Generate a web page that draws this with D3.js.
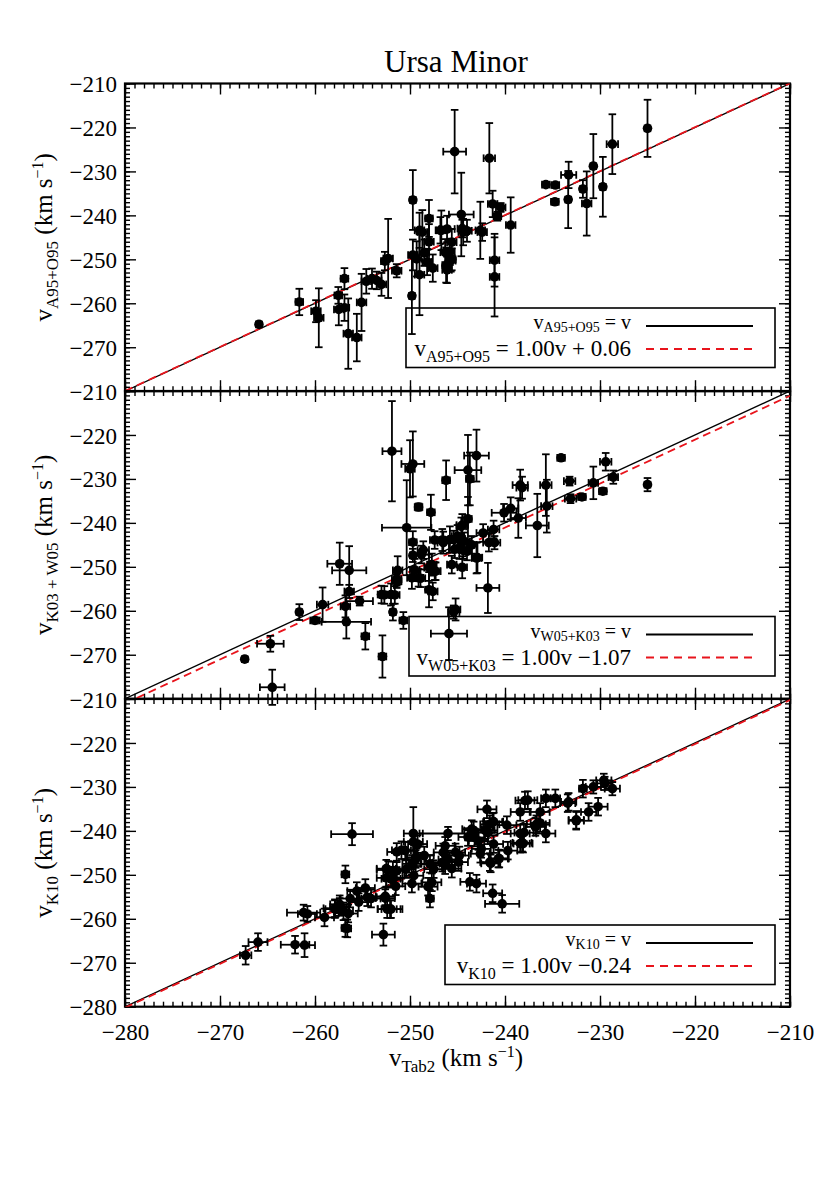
<!DOCTYPE html>
<html>
<head>
<meta charset="utf-8">
<script src="https://cdn.jsdelivr.net/npm/d3@7"></script>
<style>
  body { margin: 0; background: #fff; }
  svg { display: block; }
  text { font-family: "Liberation Serif", "DejaVu Serif", serif; fill: #000; }
</style>
</head>
<body>
<svg id="chart" width="830" height="1186"></svg>
<script>
// axis settings shared by the three panels
var domain = [-280, -210];
var majorTicks = [-280, -270, -260, -250, -240, -230, -220, -210];

// [x, y, xerr, yerr]
var ptsA95 = [
  [-265.9,-264.8,0.3,0.5], [-261.65,-259.7,0.4,3.0], [-259.9,-261.8,0.5,2.5], [-259.6,-263.3,0.5,6.7],
  [-257.55,-258.2,0.4,1.9], [-257.5,-261.4,0.5,3.6], [-256.9,-254.4,0.4,2.4], [-256.9,-261.0,0.5,3.0],
  [-256.5,-266.9,0.5,8.0], [-255.6,-267.8,0.5,5.4], [-255.1,-259.8,0.5,6.5], [-254.6,-255.0,0.5,2.8],
  [-254.0,-254.4,0.5,2.3], [-253.5,-254.8,0.5,2.0], [-253.0,-255.7,0.5,2.6], [-252.65,-250.4,0.4,2.1],
  [-252.3,-249.8,0.5,9.0], [-251.4,-252.6,0.5,1.5], [-249.7,-236.5,0.3,6.8], [-249.8,-258.3,0.3,8.7],
  [-249.7,-249.0,0.5,3.5], [-249.0,-253.5,0.5,9.2], [-248.7,-243.8,0.5,5.0], [-248.0,-240.7,0.4,4.2],
  [-248.0,-246.0,0.5,4.0], [-247.6,-252.0,0.5,3.1], [-248.5,-248.5,0.5,3.0], [-246.7,-243.4,0.5,4.5],
  [-246.1,-243.1,0.8,3.0], [-246.2,-251.3,0.4,4.0], [-245.8,-248.3,0.5,3.0], [-245.3,-225.5,1.2,9.5],
  [-241.65,-227.0,0.6,8.0], [-244.6,-239.8,1.3,9.5], [-244.5,-243.0,0.5,2.0], [-245.6,-246.1,0.5,3.0],
  [-245.6,-250.0,0.4,2.5], [-244.0,-243.5,0.5,2.5], [-242.6,-243.4,0.5,6.5], [-242.4,-243.8,0.5,2.0],
  [-241.3,-237.4,0.5,3.0], [-240.45,-238.2,0.5,1.0], [-240.8,-240.2,0.4,1.0], [-239.4,-242.2,0.5,6.3],
  [-241.1,-250.2,0.5,6.0], [-241.1,-254.0,0.5,9.0], [-235.7,-233.0,0.4,0.4], [-234.7,-233.1,0.4,0.4],
  [-234.75,-236.9,0.4,0.6], [-233.3,-230.8,0.8,3.0], [-233.35,-236.4,0.3,6.5], [-231.8,-234.0,0.3,2.0],
  [-231.4,-237.3,0.5,7.3], [-230.7,-228.8,0.3,7.3], [-229.7,-233.5,0.3,6.8], [-228.7,-223.8,0.6,6.8],
  [-225.0,-220.2,0.3,6.5], [-249.0,-243.4,0.5,4.0], [-246.8,-243.4,0.5,3.0], [-244.4,-243.8,0.5,3.0],
  [-248.2,-250.6,0.5,3.0], [-249.3,-249.9,0.5,4.0], [-246.3,-248.4,0.5,3.0], [-245.7,-250.3,0.5,2.5],
  [-246.1,-252.4,0.5,3.0]
];

var ptsW05 = [
  [-267.4,-271.0,0.3,0.5], [-264.7,-267.5,1.4,1.8], [-264.5,-277.4,1.3,4.0], [-261.65,-260.3,0.3,1.8],
  [-260.0,-262.2,0.5,0.7], [-259.2,-258.6,0.6,3.9], [-257.4,-249.3,1.3,4.8], [-256.4,-250.8,1.8,5.5],
  [-256.4,-255.6,0.5,1.5], [-256.8,-259.0,0.5,2.5], [-256.7,-262.5,2.6,3.8], [-255.3,-257.8,1.4,1.0],
  [-254.7,-265.8,0.4,3.0], [-253.0,-256.3,0.4,2.0], [-252.0,-256.3,0.4,2.5], [-252.9,-270.4,0.4,4.8],
  [-251.8,-260.3,0.3,1.9], [-250.7,-262.2,0.4,1.9], [-251.9,-223.7,1.0,11.4], [-251.3,-250.8,0.5,3.2],
  [-251.4,-253.3,0.5,1.5], [-250.35,-241.1,2.6,10.8], [-250.0,-227.7,0.5,6.5], [-249.7,-226.6,1.2,7.4],
  [-249.1,-236.4,0.4,0.8], [-247.8,-237.6,0.4,4.0], [-249.7,-244.4,0.4,2.5], [-249.7,-247.4,0.3,1.5],
  [-248.8,-247.2,0.8,2.0], [-249.8,-252.5,0.5,2.5], [-249.1,-252.5,0.5,2.0], [-248.0,-250.2,0.5,3.0],
  [-247.3,-251.0,0.5,2.0], [-248.0,-255.2,0.4,4.0], [-247.6,-255.6,0.5,2.0], [-246.2,-230.3,0.4,4.5],
  [-245.9,-265.2,1.9,6.0], [-245.2,-259.7,0.5,2.5], [-246.5,-244.5,0.6,2.5], [-245.8,-243.8,0.5,3.0],
  [-245.3,-246.0,0.6,2.0], [-243.0,-224.7,1.3,5.9], [-243.9,-228.0,1.4,8.0], [-243.7,-230.0,0.4,6.0],
  [-243.9,-239.1,0.4,5.0], [-244.6,-240.8,0.5,2.0], [-245.0,-243.0,0.6,2.5], [-244.3,-244.2,0.6,2.0],
  [-244.8,-245.7,0.5,2.5], [-244.0,-246.5,0.5,2.0], [-242.3,-242.3,0.7,2.0], [-241.2,-241.5,0.6,2.0],
  [-243.0,-248.0,0.5,3.5], [-241.7,-244.5,0.6,2.0], [-241.1,-244.5,0.6,1.5], [-241.8,-254.8,1.2,5.7],
  [-240.1,-237.7,1.3,2.0], [-239.4,-236.7,0.8,2.5], [-238.6,-238.9,0.8,4.5], [-238.4,-231.4,0.8,3.5],
  [-238.2,-232.0,0.6,2.5], [-236.6,-240.6,1.2,7.2], [-235.7,-231.4,0.6,7.0], [-235.6,-236.2,0.6,6.0],
  [-234.1,-225.2,0.4,0.5], [-233.2,-230.5,0.6,1.0], [-233.1,-234.5,0.6,1.0], [-231.9,-234.1,0.4,0.6],
  [-230.7,-230.9,0.5,3.7], [-229.7,-232.8,0.4,0.7], [-229.4,-226.1,0.6,2.0], [-228.6,-229.6,0.5,1.5],
  [-225.0,-231.3,0.3,1.5], [-245.4,-260.3,0.6,1.5], [-247.4,-243.9,0.5,2.0], [-246.6,-243.9,0.5,2.5],
  [-245.4,-243.8,0.5,2.0], [-244.5,-240.5,0.6,2.5], [-243.5,-245.0,0.5,2.0], [-242.9,-247.9,0.5,3.5],
  [-244.4,-246.2,0.5,2.0], [-245.6,-249.5,0.5,2.0], [-244.5,-250.1,0.5,2.5], [-248.6,-246.2,0.6,2.0],
  [-247.7,-249.5,0.5,2.5], [-247.4,-251.0,0.6,2.0], [-249.5,-250.7,0.5,2.5], [-248.9,-252.6,0.5,2.0],
  [-251.6,-256.4,0.5,2.0], [-252.7,-256.4,0.5,2.0], [-251.4,-252.8,0.5,1.5]
];

var ptsK10 = [
  [-267.3,-268.3,0.6,2.1], [-266.0,-265.3,1.0,2.0], [-262.1,-265.9,1.5,2.0], [-261.1,-266.0,1.1,2.7],
  [-261.2,-258.6,1.75,1.8], [-260.8,-258.9,1.0,1.8], [-259.0,-259.7,1.0,2.0], [-257.9,-257.6,1.2,2.0],
  [-257.4,-257.3,1.0,2.0], [-257.0,-258.3,1.0,2.0], [-256.5,-258.8,1.0,2.0], [-256.8,-262.1,0.4,2.0],
  [-256.8,-249.9,0.4,2.0], [-256.1,-240.75,2.2,2.5], [-256.3,-255.4,1.0,2.0], [-255.6,-253.7,1.0,2.0],
  [-254.7,-253.0,1.0,2.0], [-255.4,-256.2,1.0,2.0], [-254.1,-255.4,1.0,2.0], [-252.8,-263.6,1.2,2.5],
  [-252.6,-255.3,1.0,2.0], [-252.4,-257.8,1.0,2.0], [-252.1,-257.8,1.3,2.0], [-252.3,-248.9,1.2,2.0],
  [-252.0,-250.9,1.0,2.0], [-249.65,-240.6,1.0,6.0], [-246.0,-240.6,3.0,1.5], [-249.65,-242.5,1.0,2.0],
  [-251.4,-244.8,1.0,2.0], [-250.5,-244.5,1.0,2.0], [-252.5,-248.6,1.0,2.0], [-251.8,-249.0,1.0,2.0],
  [-252.5,-250.7,1.0,2.0], [-251.8,-250.7,1.0,2.0], [-249.8,-247.5,1.0,2.0], [-249.3,-246.0,1.0,2.0],
  [-249.8,-252.0,1.0,2.0], [-248.1,-252.7,1.0,2.0], [-247.9,-255.4,0.4,2.0], [-247.9,-247.5,1.0,2.0],
  [-246.5,-244.9,1.0,2.0], [-246.0,-246.5,1.0,2.0], [-245.6,-248.6,1.0,2.0], [-246.3,-247.8,1.0,2.0],
  [-244.9,-247.1,1.0,2.0], [-243.9,-241.4,1.0,2.0], [-243.3,-239.9,1.0,2.0], [-242.6,-245.2,1.0,2.0],
  [-241.6,-247.1,1.0,2.0], [-241.9,-235.1,1.0,2.0], [-241.3,-238.0,1.0,2.0], [-239.7,-244.5,1.0,2.0],
  [-240.7,-246.3,1.0,2.0], [-243.7,-251.6,1.0,2.0], [-243.0,-252.0,1.0,2.0], [-241.3,-254.2,1.0,2.0],
  [-240.3,-256.6,1.8,2.0], [-238.4,-235.7,1.0,2.0], [-237.9,-233.1,1.0,2.0], [-238.4,-240.6,1.0,2.0],
  [-238.4,-242.9,1.0,2.0], [-241.2,-237.9,1.0,2.0], [-242.1,-239.8,1.0,2.0], [-239.8,-238.7,1.0,2.0],
  [-237.6,-233.0,1.0,2.0], [-236.3,-235.7,1.0,2.0], [-235.7,-232.6,0.5,2.0], [-234.7,-232.6,0.5,2.0],
  [-233.3,-233.4,0.8,2.0], [-236.8,-239.1,1.0,2.0], [-236.3,-238.2,1.0,2.0], [-235.7,-240.6,1.0,2.0],
  [-238.2,-242.7,1.0,2.0], [-241.5,-247.4,1.0,2.0], [-240.6,-246.3,1.0,2.0], [-232.5,-237.7,0.8,2.0],
  [-231.2,-235.7,0.8,2.0], [-230.2,-234.5,1.0,2.0], [-231.8,-230.4,0.4,2.0], [-230.7,-230.0,0.8,1.5],
  [-229.6,-228.5,0.8,1.5], [-228.7,-230.4,0.8,1.5], [-229.5,-229.2,0.8,1.5], [-243.5,-239.6,1.0,2.0],
  [-241.8,-240.4,1.0,2.0], [-242.8,-242.3,1.0,2.0], [-241.2,-243.0,1.0,2.0], [-241.6,-238.5,1.0,2.0],
  [-243.2,-241.5,1.0,2.0], [-242.5,-244.1,1.0,2.0], [-244.8,-245.6,1.0,2.0], [-245.2,-244.9,1.0,2.0],
  [-246.3,-243.4,1.0,2.0], [-246.6,-247.2,1.0,2.0], [-247.5,-248.7,1.0,2.0], [-247.7,-251.7,1.0,2.0],
  [-248.5,-245.6,1.0,2.0], [-249.2,-243.0,1.0,2.0], [-249.4,-246.4,1.0,2.0], [-249.6,-250.2,1.0,2.0],
  [-250.9,-244.4,1.0,2.0], [-250.4,-248.7,1.0,2.0], [-251.4,-249.1,1.0,2.0], [-251.5,-252.6,1.0,2.0],
  [-252.6,-254.9,1.0,2.0], [-252.0,-257.8,1.0,2.0], [-254.5,-255.1,1.0,2.0], [-257.4,-256.7,1.0,2.0],
  [-257.9,-257.8,1.0,2.0], [-256.6,-262.2,0.4,2.0], [-236.7,-238.5,1.0,2.0], [-238.0,-240.4,1.0,2.0],
  [-238.1,-242.9,1.0,2.0], [-233.4,-233.7,0.8,2.0], [-232.5,-237.5,0.8,2.0]
];

// fits: slope, offset
var fitSlopes = [1.00, 1.00, 1.00];
var fitOffsets = [0.06, -1.07, -0.24];
var panelSubs = ["A95+O95", "W05+K03", "K10"];
var yLabelSubs = ["A95+O95", "K03 + W05", "K10"];
var fitTexts = ["1.00v + 0.06", "1.00v \u22121.07", "1.00v \u22120.24"];
var yLabelTicks = [
  [-270, -260, -250, -240, -230, -220, -210],
  [-270, -260, -250, -240, -230, -220, -210],
  [-280, -270, -260, -250, -240, -230, -220, -210]
];

var svg = d3.select("#chart");
var left = 125, right = 790;
var panelTops = [83.5, 391, 699];
var panelH = 307.7;

var x = d3.scaleLinear().domain(domain).range([left, right]);
var minorTicks = d3.range(-280, -209, 1);
var fmt = function(d) { return d3.format("d")(d); };

// title
svg.append("text")
  .attr("x", 456)
  .attr("y", 72)
  .attr("text-anchor", "middle")
  .attr("font-size", "31px")
  .text("Ursa Minor");

var allPts = [ptsA95, ptsW05, ptsK10];

allPts.forEach(function(pts, i) {
  var top = panelTops[i], bottom = top + panelH;
  var y = d3.scaleLinear().domain(domain).range([bottom, top]);
  var g = svg.append("g");

  var clipId = "clip" + i;
  svg.append("clipPath").attr("id", clipId)
    .append("rect").attr("x", left).attr("y", top)
    .attr("width", right - left).attr("height", bottom - top);

  // minor ticks
  g.append("g").attr("transform", "translate(0," + bottom + ")")
    .call(d3.axisBottom(x).tickValues(minorTicks).tickSize(-5).tickFormat(""));
  g.append("g").attr("transform", "translate(0," + top + ")")
    .call(d3.axisTop(x).tickValues(minorTicks).tickSize(-5).tickFormat(""));
  g.append("g").attr("transform", "translate(" + left + ",0)")
    .call(d3.axisLeft(y).tickValues(minorTicks).tickSize(-5).tickFormat(""));
  g.append("g").attr("transform", "translate(" + right + ",0)")
    .call(d3.axisRight(y).tickValues(minorTicks).tickSize(-5).tickFormat(""));

  // major ticks
  g.append("g").attr("transform", "translate(0," + bottom + ")")
    .call(d3.axisBottom(x).tickValues(majorTicks).tickSize(-11).tickPadding(17)
      .tickFormat(i === 2 ? fmt : ""));
  g.append("g").attr("transform", "translate(0," + top + ")")
    .call(d3.axisTop(x).tickValues(majorTicks).tickSize(-11).tickFormat(""));
  var yl = g.append("g").attr("transform", "translate(" + left + ",0)")
    .call(d3.axisLeft(y).tickValues(majorTicks).tickSize(-11).tickPadding(8)
      .tickFormat(function(d) { return yLabelTicks[i].indexOf(d) >= 0 ? fmt(d) : ""; }));
  g.append("g").attr("transform", "translate(" + right + ",0)")
    .call(d3.axisRight(y).tickValues(majorTicks).tickSize(-11).tickFormat(""));

  g.selectAll(".domain").remove();
  g.selectAll(".tick line").attr("stroke", "#000").attr("stroke-width", 1.4);
  g.selectAll(".tick text").attr("font-size", "23px").attr("fill", "#000");
  yl.selectAll(".tick text").attr("dy", "0.35em");

  // frame
  g.append("rect")
    .attr("x", left).attr("y", top)
    .attr("width", right - left).attr("height", bottom - top)
    .attr("fill", "none").attr("stroke", "#000").attr("stroke-width", 2.2);

  // one-to-one and fit lines
  var lines = g.append("g").attr("clip-path", "url(#" + clipId + ")");
  lines.append("line")
    .attr("x1", x(domain[0])).attr("y1", y(domain[0]))
    .attr("x2", x(domain[1])).attr("y2", y(domain[1]))
    .attr("stroke", "#000").attr("stroke-width", 1.4);
  lines.append("line")
    .attr("x1", x(domain[0])).attr("y1", y(fitSlopes[i] * domain[0] + fitOffsets[i]))
    .attr("x2", x(domain[1])).attr("y2", y(fitSlopes[i] * domain[1] + fitOffsets[i]))
    .attr("stroke", "#e8141c").attr("stroke-width", 1.8)
    .attr("stroke-dasharray", "8,5");

  // points with error bars
  var cap = 3.8;
  var pg = g.append("g").attr("stroke", "#000").attr("stroke-width", 1.8);
  pts.forEach(function(p) {
    var cx = x(p[0]), cy = y(p[1]);
    var x0 = x(p[0] - p[2]), x1 = x(p[0] + p[2]);
    var y0 = y(p[1] - p[3]), y1 = y(p[1] + p[3]);
    pg.append("line").attr("x1", x0).attr("x2", x1).attr("y1", cy).attr("y2", cy);
    pg.append("line").attr("x1", x0).attr("x2", x0).attr("y1", cy - cap).attr("y2", cy + cap);
    pg.append("line").attr("x1", x1).attr("x2", x1).attr("y1", cy - cap).attr("y2", cy + cap);
    pg.append("line").attr("x1", cx).attr("x2", cx).attr("y1", y0).attr("y2", y1);
    pg.append("line").attr("x1", cx - cap).attr("x2", cx + cap).attr("y1", y0).attr("y2", y0);
    pg.append("line").attr("x1", cx - cap).attr("x2", cx + cap).attr("y1", y1).attr("y2", y1);
  });
  g.append("g").selectAll("circle").data(pts).enter().append("circle")
    .attr("cx", function(d) { return x(d[0]); })
    .attr("cy", function(d) { return y(d[1]); })
    .attr("r", 4.8)
    .attr("fill", "#000");

  // y axis label
  var lab = g.append("text")
    .attr("transform", "translate(52," + (top + panelH / 2) + ") rotate(-90)")
    .attr("text-anchor", "middle")
    .attr("font-size", "25px");
  lab.append("tspan").text("v");
  lab.append("tspan").attr("font-size", "17px").attr("dy", 6).text(yLabelSubs[i]);
  lab.append("tspan").attr("dy", -6).text(" (km s");
  lab.append("tspan").attr("font-size", "16px").attr("dy", -9).text("\u22121");
  lab.append("tspan").attr("dy", 9).text(")");

  // legend
  var lgX = [406, 409, 445][i];
  var lgTop = [308, 616.5, 925][i];
  g.append("rect")
    .attr("x", lgX).attr("y", lgTop)
    .attr("width", 775 - lgX).attr("height", 59.5)
    .attr("fill", "none").attr("stroke", "#000").attr("stroke-width", 1.6);

  var r1 = g.append("text").attr("x", 631).attr("y", lgTop + 21)
    .attr("text-anchor", "end").attr("font-size", "20px");
  r1.append("tspan").text("v");
  r1.append("tspan").attr("font-size", "14px").attr("dy", 3).text(panelSubs[i]);
  r1.append("tspan").attr("dy", -3).text(" = v");

  var r2 = g.append("text").attr("x", 631).attr("y", lgTop + 48)
    .attr("text-anchor", "end").attr("font-size", "23px");
  r2.append("tspan").text("v");
  r2.append("tspan").attr("font-size", "16px").attr("dy", 6).text(panelSubs[i]);
  r2.append("tspan").attr("dy", -6).text(" = " + fitTexts[i]);

  g.append("line").attr("x1", 646).attr("x2", 753)
    .attr("y1", lgTop + 18).attr("y2", lgTop + 18)
    .attr("stroke", "#000").attr("stroke-width", 2.2);
  g.append("line").attr("x1", 646).attr("x2", 753)
    .attr("y1", lgTop + 41).attr("y2", lgTop + 41)
    .attr("stroke", "#e8141c").attr("stroke-width", 2.2)
    .attr("stroke-dasharray", "8,6");
});

// x axis label
var xl = svg.append("text")
  .attr("x", 456)
  .attr("y", 1066)
  .attr("text-anchor", "middle")
  .attr("font-size", "25px");
xl.append("tspan").text("v");
xl.append("tspan").attr("font-size", "17px").attr("dy", 6).text("Tab2");
xl.append("tspan").attr("dy", -6).text(" (km s");
xl.append("tspan").attr("font-size", "16px").attr("dy", -9).text("\u22121");
xl.append("tspan").attr("dy", 9).text(")");
</script>
</body>
</html>
